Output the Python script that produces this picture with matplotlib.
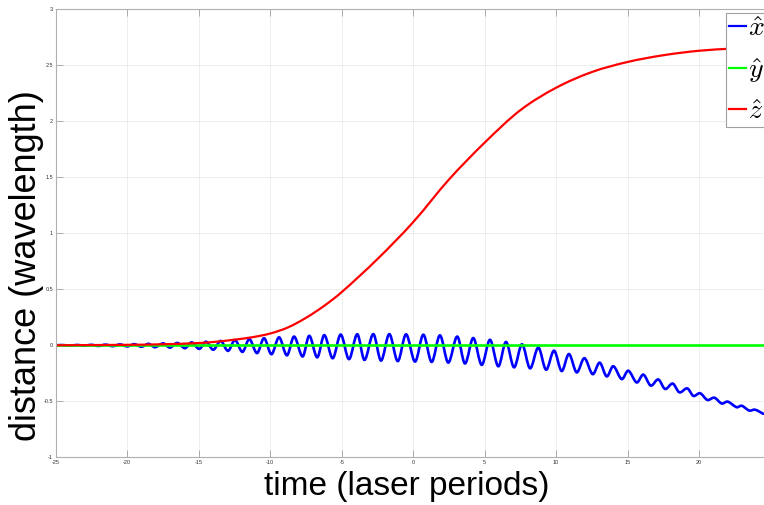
import numpy as np
import matplotlib
matplotlib.use("Agg")
from matplotlib import pyplot as plt
from matplotlib.path import Path
from matplotlib.patches import PathPatch
from matplotlib.lines import Line2D

# === DATA ===
# x-hat: turning points of the oscillation (time, value)
blue_t = [-25, -24.5, -24.0, -23.5, -23.0, -22.5, -22.0, -21.5, -21.0, -20.5,
          -20.0, -19.5, -19.0, -18.5, -18.06, -17.48, -17.01, -16.5, -15.96, -15.49,
          -14.96, -14.49, -13.98, -13.46, -12.95, -12.46, -11.94, -11.46, -10.92, -10.43,
          -9.91, -9.38, -8.83, -8.33, -7.73, -7.27, -6.71, -6.22, -5.63, -5.07,
          -4.49, -3.91, -3.41, -2.79, -2.25, -1.67, -1.08, -0.5, 0.13, 0.71,
          1.29, 1.87, 2.45, 3.08, 3.62, 4.20, 4.79, 5.37, 5.95, 6.49,
          7.05, 7.61, 8.17, 8.75, 9.29, 9.85, 10.38, 10.89, 11.43, 11.97,
          12.55, 13.04, 13.53, 13.99, 14.58, 15.04, 15.63, 16.09, 16.61, 17.14,
          17.61, 18.15, 18.61, 19.17, 19.59, 20.06, 20.57, 21.06, 21.57, 21.99,
          22.62, 22.97, 23.50, 23.90, 24.48]
blue_x = [0.0, 0.002, -0.003, 0.003, -0.004, 0.004, -0.006, 0.006, -0.008, 0.008,
          -0.010, 0.010, -0.013, 0.013, -0.017, 0.017, -0.021, 0.021, -0.026, 0.026,
          -0.032, 0.032, -0.040, 0.039, -0.050, 0.047, -0.059, 0.055, -0.070, 0.063,
          -0.080, 0.071, -0.090, 0.078, -0.100, 0.085, -0.108, 0.091, -0.116, 0.096,
          -0.124, 0.099, -0.131, 0.100, -0.137, 0.100, -0.142, 0.098, -0.146, 0.095,
          -0.149, 0.089, -0.155, 0.078, -0.163, 0.065, -0.175, 0.049, -0.188, 0.030,
          -0.197, 0.009, -0.206, -0.020, -0.218, -0.048, -0.230, -0.078, -0.242, -0.115,
          -0.258, -0.155, -0.278, -0.187, -0.302, -0.227, -0.332, -0.262, -0.360, -0.305,
          -0.390, -0.342, -0.420, -0.385, -0.452, -0.428, -0.488, -0.468, -0.520, -0.503,
          -0.553, -0.540, -0.583, -0.575, -0.612]

green_t = [-25, 25]
green_y = [0.0, 0.0]

red_t = [-25, -22.5, -20, -17.5, -15, -13.75, -12.5, -11.25, -10, -8.75,
         -7.5, -6.25, -5, -2.5, 0, 2.5, 5, 7.5, 10, 12.5,
         15, 17.5, 20, 22.5, 24.5]
red_z = [0.0, 0.002, 0.004, 0.009, 0.02, 0.032, 0.05, 0.072, 0.105, 0.16,
         0.245, 0.35, 0.475, 0.77, 1.10, 1.48, 1.81, 2.10, 2.30, 2.44,
         2.53, 2.59, 2.63, 2.65, 2.66]

x_ticks = [-25, -20, -15, -10, -5, 0, 5, 10, 15, 20]
y_ticks = [-1, -0.5, 0, 0.5, 1, 1.5, 2, 2.5, 3]
labels = [r"$\hat{x}$", r"$\hat{y}$", r"$\hat{z}$"]
colors = ["#0000ff", "#00ff00", "#ff0000"]


# smooth curve through the read points (cubic Hermite drawn as bezier)
def smooth_path(xs, ys):
    xs = np.asarray(xs, float)
    ys = np.asarray(ys, float)
    n = len(xs)
    m = np.zeros(n)
    m[0] = (ys[1] - ys[0]) / (xs[1] - xs[0])
    m[-1] = (ys[-1] - ys[-2]) / (xs[-1] - xs[-2])
    m[1:-1] = (ys[2:] - ys[:-2]) / (xs[2:] - xs[:-2])
    verts = [(xs[0], ys[0])]
    codes = [Path.MOVETO]
    for i in range(n - 1):
        h = (xs[i + 1] - xs[i]) / 3
        verts += [(xs[i] + h, ys[i] + m[i] * h),
                  (xs[i + 1] - h, ys[i + 1] - m[i + 1] * h),
                  (xs[i + 1], ys[i + 1])]
        codes += [Path.CURVE4] * 3
    return Path(verts, codes)


plt.rcParams["font.family"] = ["Liberation Sans", "DejaVu Sans"]
plt.rcParams["mathtext.fontset"] = "cm"

fig = plt.figure(figsize=(7.64, 5.05), dpi=100)
ax = fig.add_axes([0.0729, 0.0945, 0.9359, 0.8871])

ax.add_patch(PathPatch(smooth_path(blue_t, blue_x), fill=False, edgecolor=colors[0],
                       lw=1.9, joinstyle="round", capstyle="round", zorder=2))
ax.plot(green_t, green_y, color=colors[1], lw=1.9, zorder=2.1)
ax.add_patch(PathPatch(smooth_path(red_t, red_z), fill=False, edgecolor=colors[2],
                       lw=1.6, joinstyle="round", capstyle="round", zorder=2.2))

ax.set_xlim(-25, 25)
ax.set_ylim(-1, 3)
ax.set_xticks(x_ticks)
ax.set_yticks(y_ticks)
ax.set_xticklabels([f"{v:g}" for v in x_ticks])
ax.set_yticklabels([f"{v:g}" for v in y_ticks])
ax.tick_params(direction="in", length=5, width=0.6, color="#a0a0a0",
               labelsize=4, labelcolor="#333333", top=True, right=True, pad=2)
for s in ax.spines.values():
    s.set_color("#b0b0b0")
    s.set_linewidth(0.8)
ax.grid(True, color="#ebebeb", lw=0.6)
ax.set_axisbelow(True)

fig.text(407 / 764, 1 - 486 / 505, "time (laser periods)", fontsize=24,
         ha="center", va="center")
fig.text(26.5 / 764, 1 - 266 / 505, "distance (wavelength)", fontsize=26,
         ha="center", va="center", rotation=90)

handles = [Line2D([], [], color=c, lw=1.6) for c in colors]
leg = fig.legend(handles, labels, loc="upper left", bbox_to_anchor=(726 / 764, 1 - 13 / 505),
                 fontsize=20, handlelength=0.62, handletextpad=0.08, labelspacing=0.5,
                 borderpad=0.1, borderaxespad=0, fancybox=False, framealpha=1)
leg.get_frame().set_edgecolor("#a0a0a0")
leg.get_frame().set_linewidth(0.8)

plt.savefig("out.png", dpi=100)
